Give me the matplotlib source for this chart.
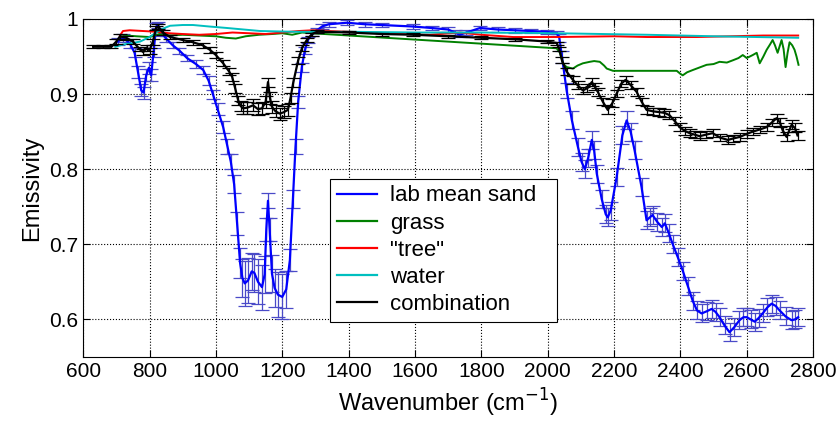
import numpy as np
import matplotlib
matplotlib.use('Agg')
import matplotlib.pyplot as plt
from matplotlib.lines import Line2D

plt.rcParams['font.family'] = ['Liberation Sans', 'DejaVu Sans']

# lab mean sand (blue) with error bars
sand_x = [705, 720, 740, 755, 765, 775, 782, 790, 798, 805, 812, 820, 826, 835, 850, 870, 890, 913, 940, 962,
          978, 991, 1005, 1022, 1035, 1045, 1055, 1064, 1073, 1080, 1087, 1097, 1108, 1116, 1127, 1139, 1147, 1152,
          1157, 1162, 1169, 1177, 1187, 1200, 1212, 1223, 1232, 1240, 1248, 1259, 1268, 1277, 1290, 1305, 1320,
          1340, 1395, 1450, 1500, 1594, 1650, 1700, 1720, 1735, 1755, 1796, 1850, 1900, 1950, 1997, 2027, 2035,
          2043, 2057, 2073, 2091, 2102, 2112, 2122, 2133, 2140, 2148, 2163, 2175, 2181, 2190, 2208, 2225, 2238,
          2250, 2262, 2283, 2298, 2308, 2316, 2330, 2344, 2353, 2365, 2377, 2392, 2407, 2422, 2437, 2450, 2464,
          2480, 2494, 2506, 2518, 2533, 2548, 2563, 2578, 2590, 2600, 2612, 2624, 2636, 2648, 2662, 2675, 2687,
          2699, 2717, 2735, 2745, 2755]
sand_y = [0.970, 0.975, 0.968, 0.955, 0.930, 0.905, 0.902, 0.925, 0.935, 0.925, 0.955, 0.990, 0.992, 0.982, 0.974,
          0.965, 0.958, 0.948, 0.940, 0.932, 0.918, 0.900, 0.880, 0.856, 0.830, 0.810, 0.780, 0.728, 0.675, 0.655,
          0.648, 0.652, 0.664, 0.662, 0.650, 0.643, 0.660, 0.720, 0.758, 0.720, 0.661, 0.642, 0.633, 0.630, 0.640,
          0.679, 0.760, 0.830, 0.890, 0.936, 0.958, 0.972, 0.980, 0.985, 0.990, 0.993, 0.995, 0.993, 0.992, 0.990,
          0.988, 0.986, 0.982, 0.979, 0.982, 0.988, 0.986, 0.985, 0.984, 0.983, 0.981, 0.975, 0.950, 0.905, 0.865,
          0.830, 0.810, 0.800, 0.815, 0.839, 0.825, 0.794, 0.760, 0.740, 0.736, 0.745, 0.790, 0.845, 0.865, 0.850,
          0.825, 0.776, 0.732, 0.736, 0.739, 0.730, 0.723, 0.728, 0.715, 0.700, 0.683, 0.665, 0.645, 0.625, 0.612,
          0.608, 0.611, 0.614, 0.610, 0.603, 0.592, 0.583, 0.590, 0.599, 0.603, 0.603, 0.600, 0.597, 0.602, 0.608,
          0.616, 0.621, 0.618, 0.612, 0.604, 0.599, 0.600, 0.603]
sand_err = [0.005, 0.005, 0.006, 0.006, 0.008, 0.008, 0.008, 0.008, 0.008, 0.008, 0.006, 0.004, 0.004, 0.004, 0.004,
            0.004, 0.004, 0.004, 0.005, 0.005, 0.006, 0.006, 0.008, 0.008, 0.010, 0.010, 0.012, 0.015, 0.020, 0.025,
            0.030, 0.030, 0.025, 0.025, 0.030, 0.030, 0.025, 0.015, 0.010, 0.015, 0.025, 0.025, 0.030, 0.030, 0.025,
            0.015, 0.012, 0.010, 0.008, 0.006, 0.005, 0.004, 0.003, 0.003, 0.003, 0.003, 0.003, 0.003, 0.003, 0.003,
            0.003, 0.003, 0.003, 0.003, 0.003, 0.003, 0.003, 0.003, 0.003, 0.003, 0.003, 0.005, 0.008, 0.010, 0.012,
            0.012, 0.012, 0.012, 0.012, 0.012, 0.012, 0.012, 0.012, 0.012, 0.012, 0.012, 0.012, 0.012, 0.012, 0.012,
            0.012, 0.012, 0.012, 0.012, 0.012, 0.012, 0.012, 0.012, 0.012, 0.012, 0.012, 0.012, 0.012, 0.012, 0.012,
            0.012, 0.012, 0.012, 0.012, 0.012, 0.012, 0.012, 0.012, 0.012, 0.012, 0.012, 0.012, 0.012, 0.012, 0.012,
            0.012, 0.012, 0.012, 0.012, 0.012, 0.012, 0.012, 0.012]

# grass (green)
grass_x = [711, 730, 760, 800, 830, 860, 900, 950, 1000, 1030, 1060, 1090, 1130, 1170, 1200, 1230, 1260, 1290,
           2027, 2037, 2047, 2057, 2076, 2090, 2106, 2127, 2140, 2157, 2170, 2178, 2197, 2300, 2389, 2400, 2407,
           2420, 2437, 2455, 2479, 2500, 2518, 2540, 2558, 2575, 2588, 2600, 2618, 2630, 2639, 2650, 2660, 2670,
           2678, 2685, 2693, 2700, 2705, 2711, 2717, 2723, 2729, 2737, 2744, 2750, 2756]
grass_y = [0.976, 0.978, 0.977, 0.976, 0.980, 0.978, 0.979, 0.978, 0.977, 0.975, 0.974, 0.977, 0.979, 0.980, 0.981,
           0.979, 0.982, 0.981, 0.961, 0.955, 0.940, 0.936, 0.934, 0.938, 0.941, 0.943, 0.944, 0.943, 0.938, 0.934,
           0.931, 0.931, 0.931, 0.927, 0.925, 0.929, 0.932, 0.935, 0.939, 0.940, 0.943, 0.942, 0.945, 0.948, 0.952,
           0.948, 0.952, 0.955, 0.941, 0.950, 0.959, 0.966, 0.972, 0.965, 0.955, 0.965, 0.972, 0.960, 0.936, 0.955,
           0.969, 0.965, 0.959, 0.950, 0.939]

# "tree" (red)
tree_x = [711, 720, 740, 780, 820, 860, 900, 950, 1000, 1050, 1100, 1150, 1200, 1250, 1293, 1400, 1525, 1645,
          1735, 1800, 1896, 2030, 2200, 2300, 2450, 2550, 2650, 2755]
tree_y = [0.978, 0.984, 0.985, 0.984, 0.983, 0.981, 0.980, 0.979, 0.980, 0.982, 0.981, 0.980, 0.982, 0.984, 0.985,
          0.983, 0.981, 0.979, 0.982, 0.979, 0.976, 0.976, 0.977, 0.976, 0.976, 0.977, 0.978, 0.978]

# water (cyan)
water_x = [697, 720, 750, 772, 800, 823, 845, 862, 900, 931, 980, 1034, 1133, 1233, 1400, 1600, 1800, 2030, 2300,
           2500, 2755]
water_y = [0.963, 0.966, 0.968, 0.970, 0.976, 0.983, 0.988, 0.991, 0.992, 0.992, 0.990, 0.988, 0.984, 0.983, 0.983,
           0.982, 0.982, 0.981, 0.979, 0.977, 0.975]

# combination (black) with error bars
comb_x = [630, 660, 685, 700, 711, 730, 750, 770, 781, 792, 800, 810, 820, 826, 840, 862, 900, 931, 960, 982, 1000,
          1022, 1040, 1049, 1058, 1067, 1075, 1082, 1095, 1112, 1127, 1139, 1150, 1157, 1163, 1169, 1180, 1193,
          1205, 1217, 1225, 1233, 1248, 1260, 1274, 1290, 1305, 1400, 1500, 1594, 1700, 1800, 1900, 1997, 2027,
          2035, 2043, 2057, 2076, 2090, 2106, 2120, 2133, 2142, 2151, 2166, 2181, 2195, 2208, 2222, 2235, 2250,
          2268, 2283, 2298, 2318, 2337, 2352, 2367, 2383, 2398, 2413, 2428, 2443, 2458, 2477, 2497, 2520, 2543,
          2560, 2579, 2600, 2618, 2640, 2660, 2675, 2690, 2700, 2708, 2720, 2735, 2745, 2753]
comb_y = [0.963, 0.963, 0.963, 0.970, 0.977, 0.975, 0.970, 0.960, 0.956, 0.962, 0.958, 0.970, 0.988, 0.990, 0.982,
          0.976, 0.972, 0.969, 0.965, 0.959, 0.952, 0.941, 0.930, 0.923, 0.908, 0.892, 0.884, 0.881, 0.882, 0.885,
          0.880, 0.881, 0.890, 0.916, 0.895, 0.883, 0.877, 0.874, 0.876, 0.879, 0.895, 0.915, 0.945, 0.962, 0.972,
          0.980, 0.983, 0.982, 0.980, 0.979, 0.977, 0.975, 0.973, 0.970, 0.968, 0.960, 0.945, 0.930, 0.919, 0.912,
          0.905, 0.908, 0.916, 0.910, 0.903, 0.890, 0.879, 0.888, 0.901, 0.914, 0.919, 0.912, 0.903, 0.890, 0.879,
          0.877, 0.876, 0.875, 0.872, 0.864, 0.856, 0.851, 0.848, 0.846, 0.844, 0.846, 0.848, 0.842, 0.839, 0.841,
          0.843, 0.847, 0.850, 0.853, 0.856, 0.862, 0.868, 0.862, 0.852, 0.843, 0.859, 0.855, 0.845]
comb_err = [0.002, 0.002, 0.002, 0.003, 0.003, 0.003, 0.003, 0.003, 0.004, 0.004, 0.004, 0.004, 0.003, 0.003, 0.003,
            0.003, 0.003, 0.003, 0.003, 0.004, 0.004, 0.004, 0.005, 0.005, 0.006, 0.006, 0.007, 0.008, 0.008, 0.008,
            0.008, 0.008, 0.008, 0.006, 0.008, 0.008, 0.008, 0.008, 0.008, 0.008, 0.007, 0.006, 0.005, 0.004, 0.003,
            0.002, 0.002, 0.002, 0.002, 0.002, 0.002, 0.002, 0.002, 0.002, 0.002, 0.003, 0.004, 0.005, 0.005, 0.005,
            0.005, 0.005, 0.005, 0.005, 0.005, 0.005, 0.005, 0.005, 0.005, 0.005, 0.005, 0.005, 0.005, 0.005, 0.005,
            0.005, 0.005, 0.005, 0.005, 0.005, 0.005, 0.005, 0.005, 0.005, 0.005, 0.005, 0.005, 0.005, 0.005, 0.005,
            0.005, 0.005, 0.005, 0.005, 0.005, 0.005, 0.006, 0.006, 0.006, 0.006, 0.006, 0.006, 0.006]

series_names = ['lab mean sand', 'grass', '"tree"', 'water', 'combination']
series_colors = ['#0000ff', '#008000', '#ff0000', '#00bfbf', 'black']

x_ticks = [600, 800, 1000, 1200, 1400, 1600, 1800, 2000, 2200, 2400, 2600, 2800]
y_ticks = [0.6, 0.7, 0.8, 0.9, 1.0]
y_tick_labels = ['0.6', '0.7', '0.8', '0.9', '1']

fig = plt.figure(figsize=(8.4, 4.22), dpi=100)
ax = fig.add_axes([0.099, 0.154, 0.869, 0.801])

ax.errorbar(sand_x, sand_y, yerr=sand_err, color=series_colors[0], ecolor='#4a4ac8', elinewidth=0.9,
            capsize=5, capthick=0.9, lw=1.6, zorder=3)
ax.plot(grass_x, grass_y, color=series_colors[1], lw=1.4, zorder=4)
ax.plot(tree_x, tree_y, color=series_colors[2], lw=1.4, zorder=4)
ax.plot(water_x, water_y, color=series_colors[3], lw=1.4, zorder=4)
ax.errorbar(comb_x, comb_y, yerr=comb_err, color=series_colors[4], ecolor='black', elinewidth=0.9,
            capsize=5, capthick=0.9, lw=1.6, zorder=5)

ax.set_xlim(600, 2800)
ax.set_ylim(0.55, 1.0)
ax.set_xticks(x_ticks)
ax.set_yticks(y_ticks)
ax.set_yticklabels(y_tick_labels)
ax.tick_params(direction='in', top=True, right=True, labelsize=15, length=5)
ax.grid(True, linestyle=':', color='black', linewidth=0.8)
ax.set_xlabel('Wavenumber (cm$^{-1}$)', fontsize=17)
ax.set_ylabel('Emissivity', fontsize=17)

# legend with plain line handles in the original order
handles = [Line2D([], [], color=c, lw=1.6) for c in series_colors]
leg = ax.legend(handles, series_names, loc='lower left', bbox_to_anchor=(0.338, 0.104, 0.311, 0.42),
                mode='expand', fontsize=16, handlelength=1.8, handletextpad=0.6, labelspacing=0.28,
                borderpad=0.3, borderaxespad=0, fancybox=False, framealpha=1)
leg.get_frame().set_edgecolor('black')
leg.get_frame().set_linewidth(0.8)

fig.savefig('out.png', dpi=100)
